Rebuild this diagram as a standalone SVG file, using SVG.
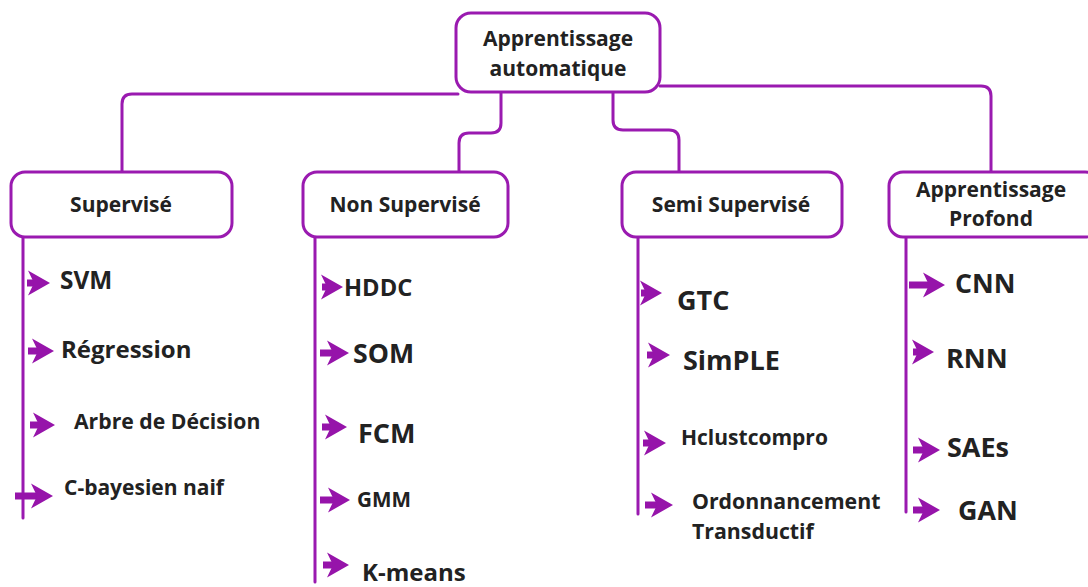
<svg xmlns="http://www.w3.org/2000/svg" width="1088" height="587" viewBox="0 0 1088 587">
  <style>
    .box { fill: #ffffff; stroke: #9a1ab0; stroke-width: 3; }
    .wire { fill: none; stroke: #9a1ab0; stroke-width: 3; stroke-linecap: round; }
    .head { font-family: "Open Sans", "DejaVu Sans", sans-serif; font-weight: 700; font-size: 21px; fill: #222222; text-anchor: middle; }
    .item { font-family: "Open Sans", "DejaVu Sans", sans-serif; font-weight: 700; fill: #222222; }
    .arrow { fill: #9614aa; }
  </style>
  <defs>
    <!-- notched arrowhead, tip at origin -->
    <path id="tip" d="M0,0 L-22,-12.5 L-16,0 L-22,12.5 Z"/>
  </defs>

  <!-- connectors -->
  <g id="connectors">
    <path class="wire" d="M458,94 H132 Q122,94 122,104 V171"/>
    <path class="wire" d="M501,93 V123 Q501,133 491,133 H469 Q459,133 459,143 V172"/>
    <path class="wire" d="M613,93 V120 Q613,130 623,130 H669 Q679,130 679,140 V172"/>
    <path class="wire" d="M660,86 H981 Q991,86 991,96 V172"/>
    <path class="wire" d="M23,238 V518"/>
    <path class="wire" d="M315,238 V582"/>
    <path class="wire" d="M638,238 V514"/>
    <path class="wire" d="M906,238 V512"/>
  </g>

  <!-- root -->
  <g id="root">
    <rect class="box" x="456" y="13" width="204" height="79" rx="15"/>
    <text class="head" x="558" y="46">Apprentissage</text>
    <text class="head" x="558" y="76">automatique</text>
  </g>

  <!-- categories -->
  <g id="supervise">
    <rect class="box" x="11" y="172" width="221" height="65" rx="14"/>
    <text class="head" x="121" y="212">Supervisé</text>
  </g>
  <g id="non-supervise">
    <rect class="box" x="303" y="172" width="205" height="65" rx="14"/>
    <text class="head" x="405" y="212">Non Supervisé</text>
  </g>
  <g id="semi-supervise">
    <rect class="box" x="622" y="172" width="220" height="65" rx="14"/>
    <text class="head" x="731" y="212">Semi Supervisé</text>
  </g>
  <g id="profond">
    <rect class="box" x="889" y="172" width="210" height="65" rx="14"/>
    <text class="head" x="991" y="197">Apprentissage</text>
    <text class="head" x="991" y="226">Profond</text>
  </g>

  <!-- arrows: short shaft + notched head -->
  <g id="arrows" class="arrow">
    <rect x="27" y="279.5" width="9" height="7"/><use href="#tip" x="50" y="283"/>
    <rect x="28" y="347.5" width="12" height="7"/><use href="#tip" x="54" y="351"/>
    <rect x="30" y="421.5" width="10" height="7"/><use href="#tip" x="55" y="425"/>
    <rect x="15" y="492.5" width="24" height="7"/><use href="#tip" x="53" y="496"/>
    <rect x="322" y="283.5" width="8" height="7"/><use href="#tip" x="343" y="287"/>
    <rect x="320" y="349.5" width="14" height="7"/><use href="#tip" x="349" y="353"/>
    <rect x="322" y="423.5" width="10" height="7"/><use href="#tip" x="347" y="427"/>
    <rect x="320" y="496.5" width="16" height="7"/><use href="#tip" x="350" y="500"/>
    <rect x="323" y="561.5" width="12" height="7"/><use href="#tip" x="349" y="565"/>
    <rect x="641" y="289.5" width="6" height="7"/><use href="#tip" x="662" y="293"/>
    <rect x="647" y="351.5" width="8" height="7"/><use href="#tip" x="670" y="355"/>
    <rect x="643" y="439.5" width="8" height="7"/><use href="#tip" x="666" y="443"/>
    <rect x="645" y="501.5" width="14" height="7"/><use href="#tip" x="673" y="505"/>
    <rect x="909" y="281.5" width="22" height="7"/><use href="#tip" x="945" y="285"/>
    <rect x="913" y="348.5" width="6" height="7"/><use href="#tip" x="934" y="352"/>
    <rect x="913" y="446.5" width="12" height="7"/><use href="#tip" x="940" y="450"/>
    <rect x="913" y="506.5" width="12" height="7"/><use href="#tip" x="940" y="510"/>
  </g>

  <!-- leaves -->
  <g id="items">
    <text class="item" x="60" y="289" font-size="24.4">SVM</text>
    <text class="item" x="61" y="358" font-size="24">Régression</text>
    <text class="item" x="74" y="429" font-size="21.2">Arbre de Décision</text>
    <text class="item" x="64" y="495" font-size="21">C-bayesien naif</text>
    <text class="item" x="344" y="296" font-size="23.7">HDDC</text>
    <text class="item" x="353" y="363" font-size="26.7">SOM</text>
    <text class="item" x="358" y="443" font-size="27">FCM</text>
    <text class="item" x="357" y="507" font-size="20.7">GMM</text>
    <text class="item" x="362" y="581" font-size="24">K-means</text>
    <text class="item" x="677" y="310" font-size="27">GTC</text>
    <text class="item" x="683" y="370" font-size="27">SimPLE</text>
    <text class="item" x="681" y="445" font-size="21">Hclustcompro</text>
    <text class="item" x="692" y="509" font-size="21.3">Ordonnancement</text>
    <text class="item" x="692" y="539" font-size="21.3">Transductif</text>
    <text class="item" x="955" y="293" font-size="26.7">CNN</text>
    <text class="item" x="946" y="368" font-size="27">RNN</text>
    <text class="item" x="947" y="457" font-size="27">SAEs</text>
    <text class="item" x="958" y="520" font-size="26.8">GAN</text>
  </g>
</svg>
